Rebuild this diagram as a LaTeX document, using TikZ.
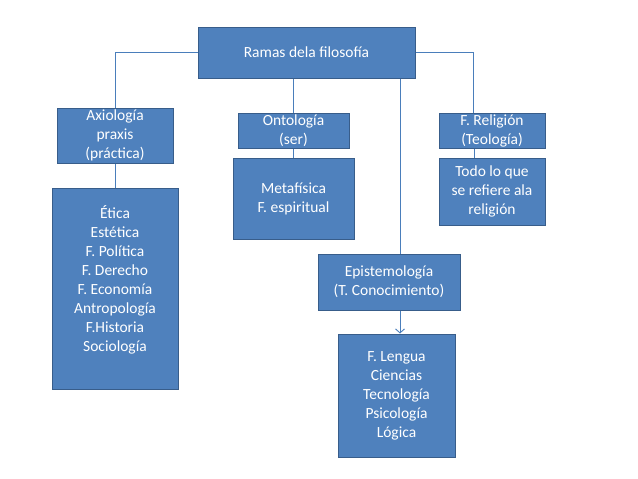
\documentclass[tikz,border=0pt]{standalone}
\usepackage{fontspec}
\setmainfont{Carlito}
\usetikzlibrary{arrows.meta}
\definecolor{boxfill}{HTML}{4F81BD}
\definecolor{boxline}{HTML}{385D8A}
\definecolor{conn}{HTML}{4A7EBB}
\tikzset{
  box/.style={draw=boxline, line width=1pt, fill=boxfill, inner sep=0pt, text=white,
    align=center, font=\fontsize{15.5}{19}\selectfont},
  txt/.style={inner sep=0pt, text=white, align=center, font=\fontsize{15.5}{19}\selectfont},
  conline/.style={draw=conn, line width=0.9pt},
}
\begin{document}
\begin{tikzpicture}[x=1pt,y=-1pt]
\useasboundingbox (0,0) rectangle (638,479);
% boxes
\node[box, minimum width=217pt, minimum height=51pt] (ramas) at (306.5,52.5) {Ramas dela filosofía};
\node[box, minimum width=116pt, minimum height=55pt] (axio) at (115,135.5) {Axiología\\praxis\\(práctica)};
\node[box, minimum width=111pt, minimum height=35pt] (onto) at (293.5,130.5) {Ontología\\(ser)};
\node[box, minimum width=106pt, minimum height=35pt] (reli) at (492,130.5) {F. Religión\\(Teología)};
\node[box, minimum width=121pt, minimum height=81pt] (meta) at (293.5,198.5) {Metafísica\\F. espiritual};
\node[box, minimum width=106pt, minimum height=67pt] (todo) at (492,191.5) {Todo lo que\\se refiere ala\\religión};
\node[box, minimum width=126pt, minimum height=201pt] (etica) at (115,288.5) {};
\node[txt] (eticatxt) at (115,279.5) {Ética\\Estética\\F. Política\\F. Derecho\\F. Economía\\Antropología\\F.Historia\\Sociología};
\node[box, minimum width=142pt, minimum height=56pt] (epis) at (389,282) {Epistemología\\(T. Conocimiento)};
\node[box, minimum width=117pt, minimum height=123pt] (leng) at (396.5,395.5) {F. Lengua\\Ciencias\\Tecnología\\Psicología\\Lógica};
% connectors
\draw[conline] (ramas.west) -| (axio.north);
\draw[conline] (ramas.east) -| (reli.north -| 473,0);
\draw[conline] (ramas.south -| onto.north) -- (onto.north);
\draw[conline] (ramas.south -| 400,0) -- (epis.north -| 400,0);
\draw[conline] (axio.south) -- (etica.north);
\draw[conline] (onto.south) -- (meta.north);
\draw[conline] (reli.south -| 474,0) -- (todo.north -| 474,0);
\draw[conline, -{Straight Barb[length=4pt,width=9pt]}] (epis.south -| 400,0) -- (leng.north -| 400,0);
\end{tikzpicture}
\end{document}
